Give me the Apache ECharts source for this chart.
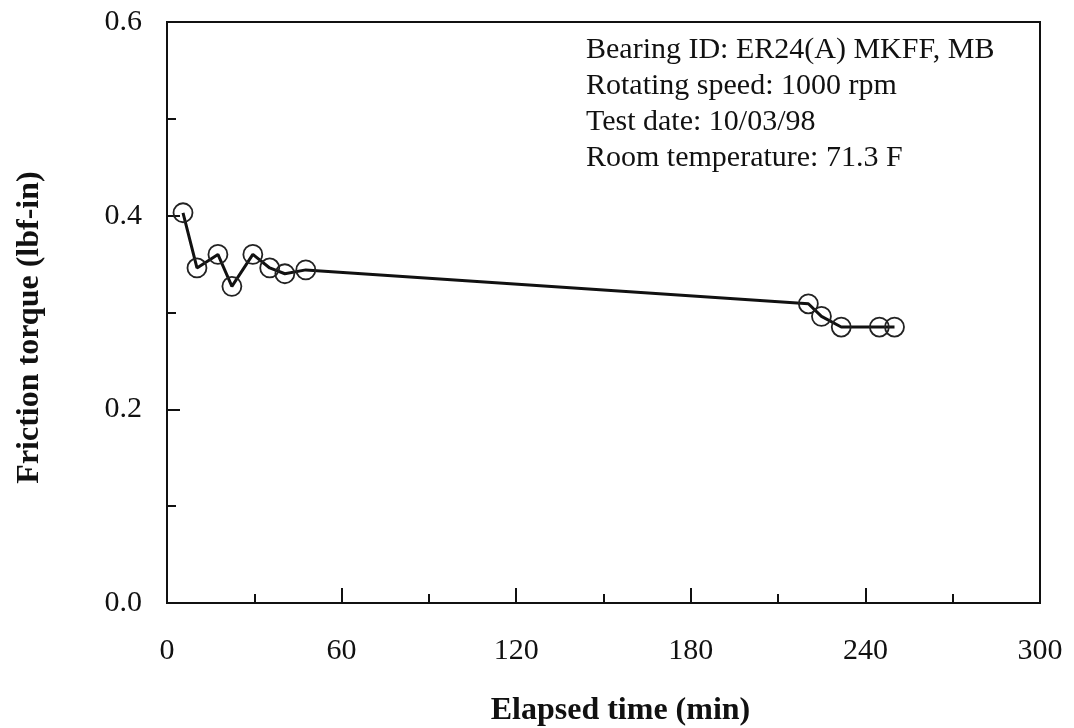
<!DOCTYPE html>
<html>
<head>
    <meta charset="utf-8">
    <title>Friction torque vs elapsed time</title>
    <script src="https://cdn.jsdelivr.net/npm/echarts@6.0.0/dist/echarts.min.js"></script>
    <style>
        body { margin: 0; background: #fff; }
    </style>
</head>
<body>
    <div id="main" style="width: 1074px; height: 728px;"></div>

    <script>
        // elapsed time (min) and friction torque (lbf-in)
        var elapsedTime = [5.5, 10.3, 17.5, 22.3, 29.5, 35.3, 40.5, 47.7, 220.4, 224.9, 231.7, 244.8, 250];
        var frictionTorque = [0.403, 0.346, 0.360, 0.327, 0.360, 0.346, 0.340, 0.344, 0.309, 0.296, 0.285, 0.285, 0.285];

        var infoLines = [
            'Bearing ID: ER24(A) MKFF, MB',
            'Rotating speed: 1000 rpm',
            'Test date: 10/03/98',
            'Room temperature: 71.3 F'
        ];

        var serif = '"Liberation Serif", "DejaVu Serif", serif';

        var chartDom = document.getElementById('main');
        var myChart = echarts.init(chartDom);

        var points = [];
        for (var i = 0; i < elapsedTime.length; i++) {
            points.push([elapsedTime[i], frictionTorque[i]]);
        }

        // text block in the upper right corner
        var graphics = [];
        for (var j = 0; j < infoLines.length; j++) {
            graphics.push({
                type: 'text',
                left: 586,
                top: 35 + j * 36,
                style: {
                    text: infoLines[j],
                    font: '30px ' + serif,
                    fill: '#111'
                }
            });
        }

        var option = {
            animation: false,
            grid: {
                left: 167,
                top: 22,
                right: 34,
                bottom: 125,
                containLabel: false,
                outerBoundsMode: 'none',
                show: true,
                borderColor: '#111',
                borderWidth: 2
            },
            graphic: graphics,
            xAxis: {
                type: 'value',
                min: 0,
                max: 300,
                interval: 60,
                name: 'Elapsed time (min)',
                nameLocation: 'middle',
                nameGap: 92,
                nameTextStyle: {
                    fontFamily: serif,
                    fontWeight: 'bold',
                    fontSize: 32,
                    color: '#111',
                    padding: [0, 0, 0, 34]
                },
                axisLine: { lineStyle: { color: '#111', width: 2 } },
                axisTick: { inside: true, length: 15, lineStyle: { color: '#111', width: 2 } },
                minorTick: { show: true, splitNumber: 2, length: 9, lineStyle: { color: '#111', width: 2 } },
                splitLine: { show: false },
                axisLabel: {
                    margin: 33,
                    fontFamily: serif,
                    fontSize: 30,
                    color: '#111'
                }
            },
            yAxis: {
                type: 'value',
                min: 0,
                max: 0.6,
                interval: 0.2,
                name: 'Friction torque (lbf-in)',
                nameLocation: 'middle',
                nameGap: 121,
                nameTextStyle: {
                    fontFamily: serif,
                    fontWeight: 'bold',
                    fontSize: 32,
                    color: '#111',
                    padding: [0, 30, 0, 0]
                },
                axisLine: { show: true, lineStyle: { color: '#111', width: 2 } },
                axisTick: { show: true, inside: true, length: 13, lineStyle: { color: '#111', width: 2 } },
                minorTick: { show: true, splitNumber: 2, length: 9, lineStyle: { color: '#111', width: 2 } },
                splitLine: { show: false },
                axisLabel: {
                    margin: 25,
                    fontFamily: serif,
                    fontSize: 30,
                    color: '#111',
                    formatter: function (v) { return v.toFixed(1); }
                }
            },
            series: [
                {
                    type: 'line',
                    data: points,
                    symbol: 'circle',
                    symbolSize: 19,
                    lineStyle: { color: '#111', width: 3 },
                    itemStyle: { color: 'rgba(0,0,0,0)', borderColor: '#222', borderWidth: 1.8 }
                }
            ]
        };

        myChart.setOption(option);
    </script>
</body>
</html>
